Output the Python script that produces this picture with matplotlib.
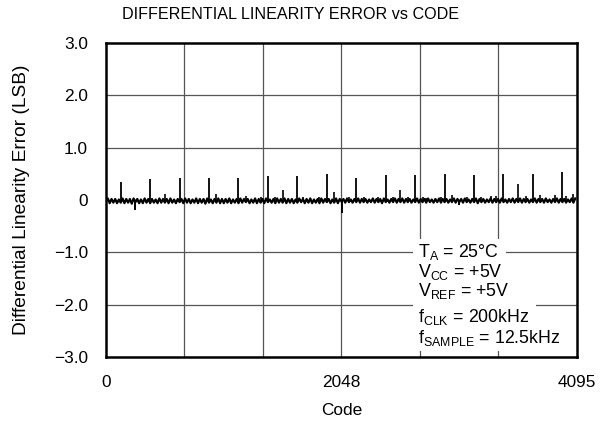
import numpy as np
import matplotlib
matplotlib.use("Agg")
import matplotlib.pyplot as plt
from matplotlib.patches import Rectangle

plt.rcParams['font.family'] = ['Liberation Sans', 'DejaVu Sans']
plt.rcParams['mathtext.fontset'] = 'custom'
plt.rcParams['mathtext.rm'] = 'Liberation Sans'
plt.rcParams['mathtext.it'] = 'Liberation Sans'
plt.rcParams['mathtext.default'] = 'regular'

# ---- data (LSB) ----
# baseline DNL sampled every 16 codes, in hundredths of an LSB
base_step = 16
base_hundredths = [
    -2, 3, -6, 2, -5, 2, -6, 1, -5, 3, -6, 2, -5, 2, -7, 3, -4, 2, -6, 1, -6, 3, -5, 2, -6, 2, -5, 1, -6, 3, -5, 2,
    -5, 2, -6, 3, -5, 1, -6, 2, -4, 2, -6, 3, -5, 2, -6, 1, -5, 3, -6, 2, -5, 2, -7, 3, -5, 1, -6, 2, -5, 3, -6, 2,
    -6, 2, -5, 3, -6, 1, -5, 2, -6, 3, -5, 2, -4, 2, -6, 1, -5, 3, -6, 2, -5, 2, -6, 3, -4, 1, -5, 2, -6, 3, -5, 2,
    -5, 3, -6, 2, -5, 2, -6, 1, -5, 3, -4, 2, -6, 2, -5, 3, -6, 1, -5, 2, -6, 3, -5, 2, -4, 2, -6, 1, -5, 3, -6, 2,
    -3, 2, -5, 3, -4, 1, -5, 2, -4, 3, -5, 2, -4, 2, -5, 1, -4, 3, -5, 2, -4, 2, -6, 3, -4, 1, -5, 2, -4, 3, -5, 2,
    -4, 3, -5, 2, -4, 2, -5, 1, -4, 3, -5, 2, -4, 2, -5, 3, -4, 1, -5, 2, -4, 3, -5, 2, -4, 2, -5, 1, -4, 3, -5, 2,
    -4, 2, -5, 3, -4, 1, -5, 2, -4, 3, -6, 2, -4, 2, -5, 1, -4, 3, -5, 2, -4, 2, -5, 3, -4, 1, -5, 2, -4, 3, -5, 2,
    -4, 3, -5, 2, -4, 2, -5, 1, -4, 3, -5, 2, -4, 2, -5, 3, -4, 1, -5, 2, -4, 3, -5, 2, -4, 2, -5, 1, -4, 3, -5, 3,
]

# major positive spikes
spike_codes = [128, 384, 640, 896, 1152, 1408, 1664, 1920, 2176, 2432, 2688, 2944,
               3200, 3456, 3712, 3968]
spike_vals = [0.34, 0.41, 0.42, 0.43, 0.42, 0.46, 0.45, 0.50, 0.42, 0.47, 0.47, 0.50,
              0.47, 0.50, 0.50, 0.54]

# smaller positive spikes
small_codes = [512, 960, 1216, 1344, 1472, 1536, 1712, 1856, 1984, 2112, 2240, 2368,
               2496, 2560, 2624, 2752, 2784, 2912, 3008, 3136, 3264, 3344, 3392, 3584,
               3648, 3776, 3904, 4000, 4064]
small_vals = [0.12, 0.12, 0.08, 0.06, 0.06, 0.19, 0.06, 0.06, 0.15, 0.05, 0.05, 0.06,
              0.06, 0.19, 0.06, 0.06, 0.04, 0.05, 0.10, 0.05, 0.06, 0.07, 0.08, 0.31,
              0.07, 0.10, 0.10, 0.07, 0.12]

# negative spikes
neg_codes = [256, 2048, 3072]
neg_vals = [-0.19, -0.24, -0.10]

title = "DIFFERENTIAL LINEARITY ERROR vs CODE"
xlabel = "Code"
ylabel = "Differential Linearity Error (LSB)"
xtick_vals = [0, 2048, 4095]
ytick_vals = [3, 2, 1, 0, -1, -2, -3]
ytick_labels = ["3.0", "2.0", "1.0", "0", "\u22121.0", "\u22122.0", "\u22123.0"]
cond_lines = [r"T$_{A}$ = 25°C", r"V$_{CC}$ = +5V", r"V$_{REF}$ = +5V",
              r"f$_{CLK}$ = 200kHz", r"f$_{SAMPLE}$ = 12.5kHz"]
cond_y = [-1.08, -1.48, -1.83, -2.34, -2.74]

# ---- figure ----
fig = plt.figure(figsize=(6.12, 4.22), dpi=100)
ax = fig.add_axes([0.1732, 0.154, 0.7696, 0.744])
ax.set_xlim(0, 4095)
ax.set_ylim(-3, 3)

# grid
for gx in np.linspace(0, 4095, 7)[1:-1]:
    ax.axvline(gx, color='#555555', lw=0.9, zorder=1)
for gy in ytick_vals[1:-1]:
    if gy != 0:
        ax.axhline(gy, color='#555555', lw=0.9, zorder=1)

base_codes = np.arange(len(base_hundredths)) * base_step
base_vals = np.array(base_hundredths) / 100.0
ax.plot(base_codes, base_vals, color='black', lw=1.6, zorder=3)
ax.vlines(spike_codes, 0, spike_vals, color='black', lw=1.3, zorder=3)
ax.vlines(small_codes, 0, small_vals, color='black', lw=1.2, zorder=3)
ax.vlines(neg_codes, 0, neg_vals, color='black', lw=1.4, zorder=3)

cond_texts = []
for txt, yy in zip(cond_lines, cond_y):
    t = ax.text(2713, yy, txt, fontsize=12.8, ha='left', va='baseline', zorder=4)
    cond_texts.append(t)

ax.set_xticks(xtick_vals)
ax.set_xticklabels([str(v) for v in xtick_vals], fontsize=12.4)
ax.set_yticks(ytick_vals)
ax.set_yticklabels(ytick_labels, fontsize=12.4)
ax.tick_params(axis='x', length=0, pad=13)
ax.tick_params(axis='y', length=0, pad=13)
for s in ax.spines.values():
    s.set_linewidth(1.8)
    s.set_zorder(5)

ax.set_xlabel(xlabel, fontsize=12.4, labelpad=9)
ax.set_ylabel(ylabel, fontsize=13.8, labelpad=17)
fig.text(290 / 612, 1 - 7 / 422, title, fontsize=11.6, ha='center', va='top')

# white backgrounds behind each condition line
fig.canvas.draw()
renderer = fig.canvas.get_renderer()
exts = [t.get_window_extent(renderer) for t in cond_texts]
inv = fig.transFigure.inverted()
for i, e in enumerate(exts):
    x0, x1 = e.x0 - 5, e.x1 + 7
    y1 = e.y1 + 3
    y0 = (exts[i + 1].y1 + 3) if i + 1 < len(exts) else e.y0 - 3
    (fx0, fy0) = inv.transform((x0, y0))
    (fx1, fy1) = inv.transform((x1, y1))
    ax.add_patch(Rectangle((fx0, fy0), fx1 - fx0, fy1 - fy0, transform=fig.transFigure,
                           facecolor='white', edgecolor='none', zorder=3.5))

fig.savefig("out.png", dpi=100)
